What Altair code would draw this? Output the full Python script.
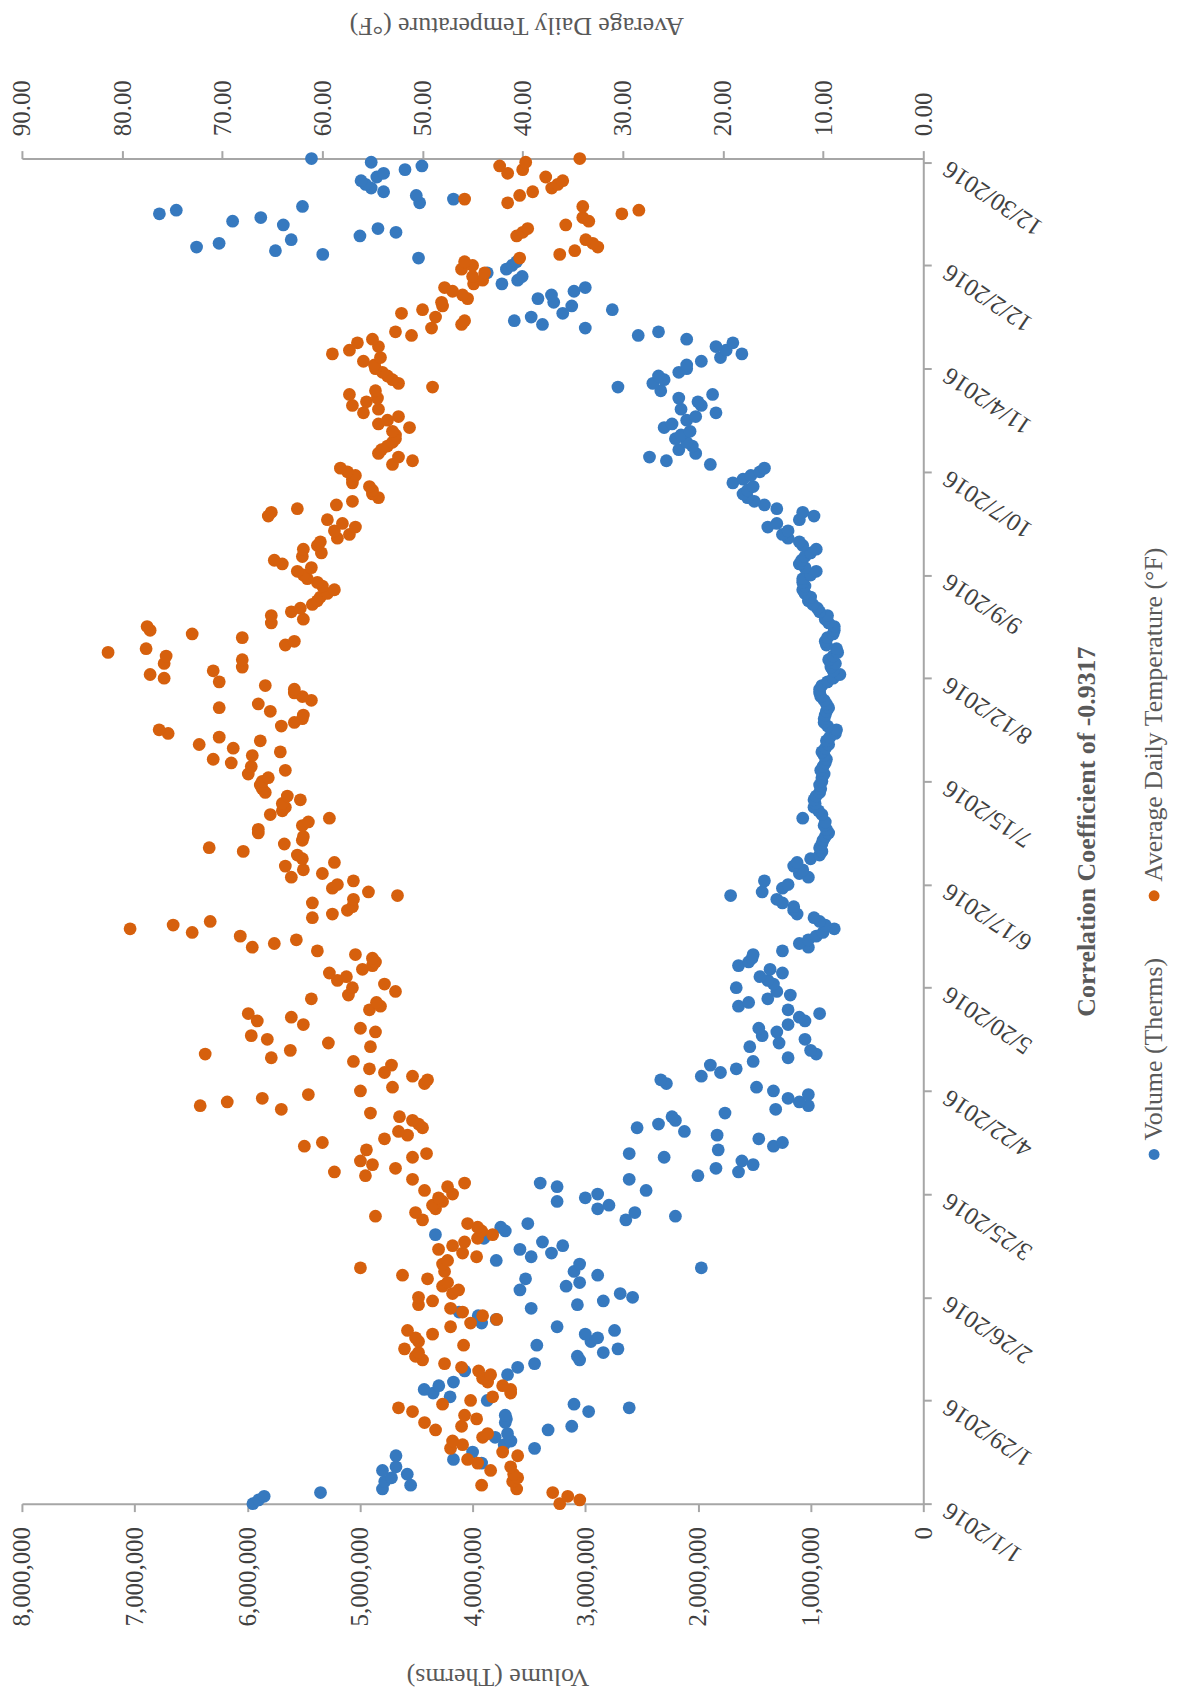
import altair as alt
import pandas as pd

# ---------------- data ----------------
dates = pd.date_range("2016-01-01", "2016-12-31", freq="D").strftime("%Y-%m-%d").tolist()

series_names = ["Volume (Therms)", "Average Daily Temperature (°F)"]

volume = [
    5950000, 5900000, 5850000, 5350000, 4800000, 4550000, 4780000, 4720000, 4580000, 4800000,
    4680000, 3920000, 4170000, 4680000, 4000000, 3450000, 3720000, 3660000, 3800000, 3690000,
    3330000, 3120000, 3710000, 3700000, 3710000, 2970000, 2610000, 3100000, 3870000, 4200000,
    4350000, 4430000, 4300000, 4170000, 3900000, 3690000, 4070000, 3600000, 3450000, 3050000,
    3070000, 2840000, 2710000, 3430000, 2950000, 2890000, 3000000, 2740000, 3250000, 3920000,
    3790000, 3950000, 4120000, 3480000, 3070000, 2840000, 2580000, 2690000, 3580000, 3170000,
    3050000, 3530000, 2890000, 3100000, 1970000, 3050000, 3790000, 3480000, 3300000, 3580000,
    3200000, 3380000, 3900000, 4330000, 3710000, 3750000, 3510000, 2640000, 2200000, 2560000,
    2890000, 2790000, 3250000, 3000000, 2890000, 2460000, 3250000, 3400000, 2610000, 2000000,
    1640000, 1840000, 1510000, 1610000, 2300000, 2610000, 1820000, 1330000, 1250000, 1460000,
    1830000, 2120000, 2540000, 2350000, 2200000, 2230000, 1760000, 1310000, 1020000, 1100000,
    1200000, 1020000, 1330000, 1480000, 2280000, 2330000, 1970000, 1800000, 1660000, 1890000,
    1510000, 1200000, 950000, 1000000, 1540000, 1280000, 1050000, 1430000, 1300000, 1460000,
    1200000, 1050000, 1100000, 920000, 1200000, 1640000, 1550000, 1380000, 1180000, 1300000,
    1660000, 1330000, 1380000, 1450000, 1250000, 1360000, 1640000, 1550000, 1520000, 1510000,
    1250000, 1020000, 1100000, 1020000, 950000, 890000, 790000, 870000, 920000, 970000,
    1120000, 1150000, 1150000, 1250000, 1300000, 1710000, 1430000, 1250000, 1200000, 1410000,
    1020000, 1100000, 1070000, 1150000, 1120000, 1000000, 920000, 900000, 920000, 900000,
    890000, 870000, 840000, 860000, 880000, 870000, 1070000, 900000, 930000, 970000,
    960000, 970000, 950000, 920000, 910000, 920000, 900000, 900000, 880000, 910000,
    890000, 870000, 860000, 880000, 900000, 870000, 840000, 860000, 830000, 780000,
    770000, 850000, 880000, 880000, 870000, 860000, 840000, 860000, 880000, 910000,
    920000, 920000, 900000, 850000, 800000, 740000, 800000, 820000, 780000, 840000,
    800000, 760000, 770000, 860000, 870000, 850000, 800000, 790000, 790000, 840000,
    870000, 850000, 920000, 940000, 980000, 1020000, 1000000, 1050000, 1070000, 1050000,
    1070000, 1070000, 1000000, 950000, 1050000, 1100000, 1080000, 1050000, 1000000, 950000,
    1070000, 1100000, 1200000, 1250000, 1200000, 1380000, 1300000, 1100000, 970000, 1070000,
    1300000, 1410000, 1500000, 1560000, 1600000, 1560000, 1510000, 1690000, 1600000, 1530000,
    1450000, 1410000, 1890000, 2280000, 2430000, 2020000, 2170000, 2050000, 2100000, 2200000,
    2150000, 2070000, 2300000, 2230000, 2100000, 2020000, 1840000, 2150000, 1970000, 2000000,
    2170000, 1870000, 2330000, 2710000, 2400000, 2300000, 2350000, 2170000, 2100000, 2100000,
    1970000, 1800000, 1610000, 1750000, 1840000, 1690000, 2100000, 2530000, 2350000, 3000000,
    3380000, 3630000, 3480000, 3200000, 2760000, 3120000, 3280000, 3420000, 3300000, 3100000,
    3000000, 3740000, 3600000, 3560000, 3870000, 3700000, 3650000, 3610000, 4480000, 5330000,
    5750000, 6450000, 6250000, 5610000, 5000000, 4680000, 4840000, 5680000, 6130000, 5880000,
    6780000, 6630000, 5510000, 4470000, 4170000, 4500000, 4790000, 4900000, 4950000, 4990000,
    4850000, 4790000, 4600000, 4450000, 4900000, 5430000,
]

temperature = [
    36.3, 34.3, 35.5, 37.0, 40.6, 44.1, 41.0, 40.5, 40.9, 43.2,
    41.2, 44.5, 45.5, 40.5, 42.0, 47.2, 46.0, 47.0, 44.0, 43.5,
    48.7, 46.1, 49.8, 44.6, 45.8, 51.0, 52.4, 48.0, 45.2, 43.0,
    41.2, 41.2, 42.0, 43.5, 44.0, 43.2, 44.4, 46.1, 47.8, 50.0,
    50.7, 50.4, 51.8, 45.9, 50.4, 50.7, 49.0, 51.5, 47.2, 45.2,
    42.6, 44.0, 46.0, 47.2, 50.4, 49.0, 50.4, 47.0, 46.4, 48.0,
    47.5, 49.5, 52.0, 47.8, 56.2, 48.0, 47.5, 44.6, 46.0, 48.4,
    47.0, 45.8, 44.5, 43.0, 44.1, 44.5, 45.5, 50.0, 54.7, 50.7,
    48.7, 49.0, 48.0, 48.4, 47.0, 49.8, 47.5, 45.8, 51.0, 55.7,
    58.8, 52.7, 55.0, 56.2, 51.0, 49.6, 55.6, 61.8, 60.0, 53.8,
    51.5, 52.4, 50.0, 50.4, 51.0, 52.3, 55.2, 64.1, 72.2, 69.5,
    66.0, 61.4, 56.2, 53.0, 49.8, 49.5, 51.0, 53.8, 55.3, 53.1,
    56.9, 65.1, 71.7, 63.2, 55.2, 59.4, 65.5, 67.1, 54.7, 56.2,
    61.9, 66.5, 63.1, 67.4, 55.3, 54.2, 54.6, 61.1, 57.4, 52.7,
    57.0, 53.8, 58.5, 57.6, 59.3, 56.0, 55.0, 54.7, 55.0, 56.7,
    60.5, 67.0, 64.8, 62.6, 68.2, 73.0, 79.2, 74.9, 71.2, 61.0,
    59.0, 57.5, 57.0, 61.0, 56.9, 52.5, 55.4, 59.0, 58.5, 56.9,
    63.1, 60.0, 61.9, 63.7, 58.8, 62.0, 62.5, 67.9, 71.3, 63.8,
    62.0, 61.9, 66.4, 66.4, 62.0, 61.4, 59.3, 65.2, 64.0, 63.7,
    64.0, 62.2, 63.5, 65.7, 66.0, 66.2, 66.0, 65.4, 67.4, 63.7,
    67.1, 69.1, 70.9, 67.0, 64.2, 68.9, 72.3, 66.2, 70.3, 75.4,
    76.3, 64.1, 62.8, 62.0, 61.9, 65.2, 70.3, 66.4, 61.1, 62.0,
    62.8, 62.8, 65.7, 70.3, 75.8, 77.2, 70.9, 68.0, 75.8, 68.0,
    75.6, 81.4, 77.6, 63.7, 62.8, 68.0, 73.0, 77.2, 77.5, 65.1,
    61.9, 65.1, 63.1, 62.2, 61.0, 60.5, 60.2, 59.5, 58.8, 60.0,
    60.5, 61.5, 61.9, 62.5, 61.1, 64.0, 64.8, 62.0, 60.1, 61.9,
    60.5, 60.2, 58.5, 57.3, 58.8, 56.7, 58.0, 59.5, 65.4, 65.1,
    62.5, 58.6, 57.0, 54.4, 55.0, 55.0, 55.3, 57.0, 57.0, 56.7,
    57.5, 58.2, 53.0, 51.0, 52.4, 54.4, 54.1, 53.5, 53.0, 52.7,
    52.7, 53.0, 51.3, 54.4, 53.5, 52.4, 55.9, 54.4, 57.0, 55.6,
    54.5, 57.3, 54.7, 49.0, 52.4, 53.0, 53.5, 54.0, 54.7, 54.8,
    55.9, 54.2, 59.0, 57.3, 54.4, 56.5, 55.0, 51.1, 52.7, 49.1,
    46.1, 45.8, 48.7, 52.1, 50.0, 48.0, 48.1, 45.5, 46.0, 47.0,
    47.8, 44.9, 44.0, 45.0, 43.8, 46.1, 45.0, 45.8, 40.3, 36.3,
    34.8, 32.5, 33.0, 33.7, 40.6, 40.0, 39.5, 35.7, 33.4, 34.0,
    30.1, 28.4, 34.0, 41.5, 45.8, 40.3, 39.0, 37.1, 36.5, 36.0,
    37.7, 41.5, 40.0, 42.3, 39.7, 34.3,
]

volume_ticks = [0, 1000000, 2000000, 3000000, 4000000, 5000000, 6000000, 7000000, 8000000]
temp_ticks = [0, 10, 20, 30, 40, 50, 60, 70, 80, 90]
date_tick_days = [0, 28, 56, 84, 112, 140, 168, 196, 224, 252, 280, 308, 336, 364]

chart_title = "Correlation Coefficient of -0.9317"

# ---------------- build table ----------------
start = pd.Timestamp(dates[0])
df = pd.DataFrame({
    "date": dates,
    "day": [(pd.Timestamp(d) - start).days for d in dates],
    "volume": volume,
    "temp": temperature,
})

BLUE = "#3679bf"
ORANGE = "#d6600d"
SERIF = "Liberation Serif"
AXIS_GREY = "#a6a6a6"
LABEL_C = "#404040"
TITLE_C = "#595959"

W, H = 906, 1352
MSIZE = 165

y_enc = alt.Y(
    "day:Q",
    scale=alt.Scale(domain=[0, 365], nice=False, zero=False),
    axis=alt.Axis(
        orient="right",
        values=date_tick_days,
        labelExpr="timeFormat(datetime(2016, 0, 1 + datum.value), '%-m/%-d/%Y')",
        labelAngle=214,
        labelAlign="right",
        labelBaseline="middle",
        labelPadding=14,
        labelOffset=4,
        labelFont=SERIF,
        labelFontSize=25,
        labelColor=LABEL_C,
        labelOverlap=False,
        tickSize=8,
        title=chart_title,
        titleAngle=270,
        titleX=164,
        titleY=H / 2,
        titleAlign="center",
        titleBaseline="middle",
        titleFont=SERIF,
        titleFontSize=26,
        titleFontWeight="bold",
        titleColor=TITLE_C,
    ),
)

vol_layer = alt.Chart(df).mark_circle(size=MSIZE, color=BLUE, opacity=1).encode(
    x=alt.X(
        "volume:Q",
        scale=alt.Scale(domain=[0, 8000000], reverse=True, nice=False),
        axis=alt.Axis(
            orient="bottom",
            values=volume_ticks,
            format=",.0f",
            labelAngle=270,
            labelAlign="right",
            labelBaseline="middle",
            labelPadding=15,
            labelFont=SERIF,
            labelFontSize=25,
            labelColor=LABEL_C,
            labelOverlap=False,
            tickSize=8,
            title=series_names[0],
            titleAngle=180,
            titleX=478,
            titleY=174,
            titleAlign="center",
            titleBaseline="middle",
            titleFont=SERIF,
            titleFontSize=26,
            titleFontWeight="normal",
            titleColor=TITLE_C,
        ),
    ),
    y=y_enc,
)

temp_layer = alt.Chart(df).mark_circle(size=MSIZE, color=ORANGE, opacity=1).encode(
    x=alt.X(
        "temp:Q",
        scale=alt.Scale(domain=[0, 90], reverse=True, nice=False),
        axis=alt.Axis(
            orient="top",
            values=temp_ticks,
            format=".2f",
            labelAngle=270,
            labelAlign="left",
            labelBaseline="middle",
            labelPadding=15,
            labelFont=SERIF,
            labelFontSize=25,
            labelColor=LABEL_C,
            labelOverlap=False,
            tickSize=8,
            title=series_names[1],
            titleAngle=180,
            titleX=497,
            titleY=-134,
            titleAlign="center",
            titleBaseline="middle",
            titleFont=SERIF,
            titleFontSize=26,
            titleFontWeight="normal",
            titleColor=TITLE_C,
        ),
    ),
    y=y_enc,
)

# ---------------- manual rotated legend ----------------
leg_df = pd.DataFrame({"label": series_names})
LEG_X = 1138

leg_dot_v = alt.Chart(leg_df.iloc[[0]]).mark_circle(size=120, color=BLUE, opacity=1).encode(
    x=alt.value(LEG_X), y=alt.value(1001)
)
leg_txt_v = alt.Chart(leg_df.iloc[[0]]).mark_text(
    angle=270, align="left", baseline="middle", font=SERIF, fontSize=26, color=TITLE_C
).encode(text="label:N", x=alt.value(LEG_X), y=alt.value(987))
leg_dot_t = alt.Chart(leg_df.iloc[[1]]).mark_circle(size=120, color=ORANGE, opacity=1).encode(
    x=alt.value(LEG_X), y=alt.value(741)
)
leg_txt_t = alt.Chart(leg_df.iloc[[1]]).mark_text(
    angle=270, align="left", baseline="middle", font=SERIF, fontSize=26, color=TITLE_C
).encode(text="label:N", x=alt.value(LEG_X), y=alt.value(727))

chart = (
    alt.layer(vol_layer, temp_layer, leg_dot_v, leg_txt_v, leg_dot_t, leg_txt_t)
    .resolve_scale(x="independent")
    .properties(
        width=W,
        height=H,
        autosize=alt.AutoSizeParams(type="none"),
        padding={"left": 14, "top": 147, "right": 250, "bottom": 190},
    )
    .configure_axis(
        grid=False,
        domainColor=AXIS_GREY,
        domainWidth=2,
        tickColor=AXIS_GREY,
        tickWidth=2,
    )
    .configure_view(strokeWidth=0)
)

chart.save("out.html", embed_options={"renderer": "svg", "actions": False})
